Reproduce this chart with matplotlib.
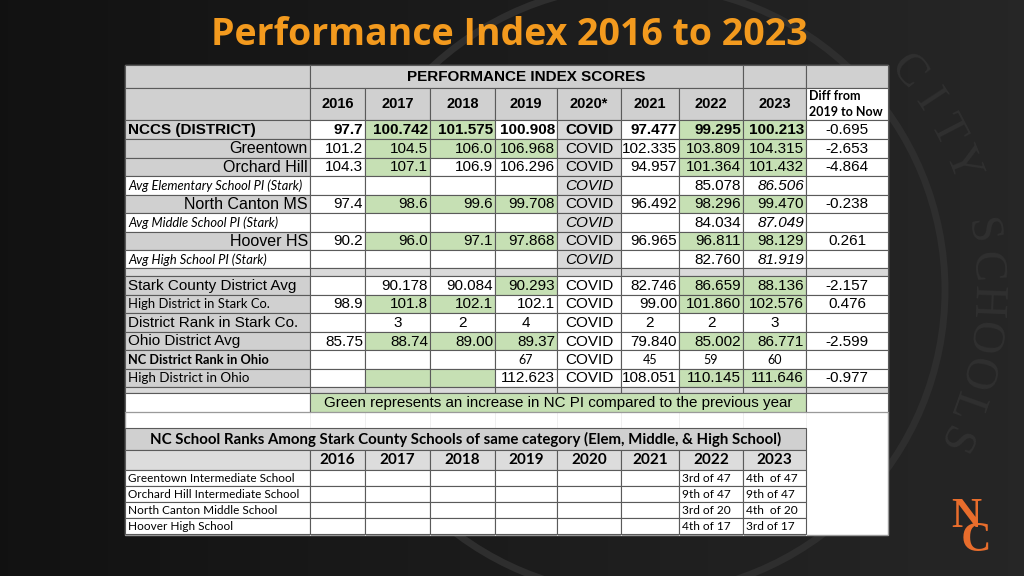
import numpy as np
import matplotlib
matplotlib.use('Agg')
import matplotlib.pyplot as plt
from matplotlib.patches import Rectangle, Circle

# ---- data ----
title = 'Performance Index 2016 to 2023'
table_title = 'PERFORMANCE INDEX SCORES'
header_years = ['2016', '2017', '2018', '2019', '2020*', '2021', '2022', '2023']
diff_header = 'Diff from\n2019 to Now'

row_labels = ['NCCS (DISTRICT)', 'Greentown', 'Orchard Hill',
              'Avg Elementary School PI (Stark)', 'North Canton MS',
              'Avg Middle School PI (Stark)', 'Hoover HS',
              'Avg High School PI (Stark)']
nccs_vals = ['97.7', '100.742', '101.575', '100.908', 'COVID', '97.477', '99.295', '100.213', '-0.695']
greentown_vals = ['101.2', '104.5', '106.0', '106.968', 'COVID', '102.335', '103.809', '104.315', '-2.653']
orchard_vals = ['104.3', '107.1', '106.9', '106.296', 'COVID', '94.957', '101.364', '101.432', '-4.864']
avg_elem_vals = ['', '', '', '', 'COVID', '', '85.078', '86.506', '']
ncms_vals = ['97.4', '98.6', '99.6', '99.708', 'COVID', '96.492', '98.296', '99.470', '-0.238']
avg_mid_vals = ['', '', '', '', 'COVID', '', '84.034', '87.049', '']
hoover_vals = ['90.2', '96.0', '97.1', '97.868', 'COVID', '96.965', '96.811', '98.129', '0.261']
avg_high_vals = ['', '', '', '', 'COVID', '', '82.760', '81.919', '']

county_labels = ['Stark County District Avg', 'High District in Stark Co.',
                 'District Rank in Stark Co.', 'Ohio District Avg',
                 'NC District Rank in Ohio', 'High District in Ohio']
stark_avg_vals = ['', '90.178', '90.084', '90.293', 'COVID', '82.746', '86.659', '88.136', '-2.157']
high_stark_vals = ['98.9', '101.8', '102.1', '102.1', 'COVID', '99.00', '101.860', '102.576', '0.476']
rank_stark_vals = ['', '3', '2', '4', 'COVID', '2', '2', '3', '']
ohio_avg_vals = ['85.75', '88.74', '89.00', '89.37', 'COVID', '79.840', '85.002', '86.771', '-2.599']
rank_ohio_vals = ['', '', '', '67', 'COVID', '45', '59', '60', '']
high_ohio_vals = ['', '', '', '112.623', 'COVID', '108.051', '110.145', '111.646', '-0.977']

# which year columns are shaded green (increase on previous year)
green_top = [[1, 2, 6, 7], [1, 2, 3, 6, 7], [1, 6, 7], [], [1, 2, 3, 6, 7], [], [1, 2, 3, 6, 7], []]
green_county = [[3, 6, 7], [1, 2, 6, 7], [], [1, 2, 3, 6, 7], [], [1, 2, 6, 7]]
legend_note = 'Green represents an increase in NC PI compared to the previous year'

ranks_title = 'NC School Ranks Among Stark County Schools of same category (Elem, Middle, & High School)'
rank_years = ['2016', '2017', '2018', '2019', '2020', '2021', '2022', '2023']
school_labels = ['Greentown Intermediate School', 'Orchard Hill Intermediate School',
                 'North Canton Middle School', 'Hoover High School']
ranks_2022 = ['3rd of 47', '9th of 47', '3rd of 20', '4th of 17']
ranks_2023 = ['4th  of 47', '9th of 47', '4th  of 20', '3rd of 17']

top_vals = [nccs_vals, greentown_vals, orchard_vals, avg_elem_vals,
            ncms_vals, avg_mid_vals, hoover_vals, avg_high_vals]
county_vals = [stark_avg_vals, high_stark_vals, rank_stark_vals,
               ohio_avg_vals, rank_ohio_vals, high_ohio_vals]

# ---- layout (pixels) ----
col_x = [125, 310, 365, 430, 495, 557, 621, 679, 743, 806, 888]
top_rows_y = [120, 139, 157.5, 176, 194.5, 213, 231.5, 250, 268]
county_rows_y = [276, 295, 313, 332, 350, 369, 387]
rank_rows_y = [470, 486, 502, 518, 534]

GRAY = '#d0d0d0'
COVID_GRAY = '#dadada'
GREEN = '#c6e0b4'
LINE = '#5a5a5a'
ARIAL = 'Liberation Sans'
CALIBRI = 'Lato'
ORANGE = '#f39a1e'
NUM = 11

fig = plt.figure(figsize=(10.24, 5.76), dpi=100)
ax = fig.add_axes([0, 0, 1, 1])
ax.set_xlim(0, 1024)
ax.set_ylim(576, 0)
ax.axis('off')

# dark background with a soft gradient
grad = np.linspace(0.07, 0.15, 256)[None, :]
ax.imshow(np.dstack([grad, grad, grad]), extent=[0, 1024, 576, 0], aspect='auto', zorder=0)

# faint school seal watermark (only the letters that fall on the visible right side)
cx, cy = 640, 290
ax.add_patch(Circle((cx, cy), 305, fill=False, ec='#2e2e2e', lw=5, zorder=1))
seal = 'NORTH CANTON CITY SCHOOLS'
start = 52 - 6 * seal.index('CITY')
for i, ch in enumerate(seal):
    a = np.radians(start + 5.9 * i)
    px, py = cx + 345 * np.sin(a), cy - 345 * np.cos(a)
    if ch == ' ' or py < 30 or py > 550 or px < 880:
        continue
    ax.text(px, py, ch, fontsize=33, family='Liberation Serif', color='#303030',
            ha='center', va='center', rotation=-np.degrees(a), zorder=1)

# title
ax.text(509, 35, title, fontsize=27, weight='bold', family='Open Sans',
        color=ORANGE, ha='center', va='center', zorder=5)

# spreadsheet area
ax.add_patch(Rectangle((125, 65), 763, 470, fc='white', ec='#9a9a9a', lw=1, zorder=2))
for gx in col_x[1:-1]:
    ax.plot([gx, gx], [412, 535], color='#ececec', lw=0.6, zorder=2)


def cell(x0, x1, y0, y1, fc='white', lw=0.8):
    ax.add_patch(Rectangle((x0, y0), x1 - x0, y1 - y0, fc=fc, ec=LINE, lw=lw, zorder=3))


def put(x0, x1, y0, y1, s, align='right', size=NUM, family=ARIAL, **kw):
    yc = (y0 + y1) / 2 + 0.5
    if align == 'right':
        ax.text(x1 - 2, yc, s, ha='right', va='center', fontsize=size, family=family, zorder=4, **kw)
    elif align == 'left':
        ax.text(x0 + 3, yc, s, ha='left', va='center', fontsize=size, family=family, zorder=4, **kw)
    else:
        ax.text((x0 + x1) / 2, yc, s, ha='center', va='center', fontsize=size, family=family, zorder=4, **kw)


# title row and header row
cell(125, 310, 65, 88, GRAY)
cell(310, 743, 65, 88, GRAY)
cell(743, 806, 65, 88, GRAY)
cell(806, 888, 65, 88, GRAY)
put(310, 743, 65, 88, table_title, 'center', 11, weight='bold')
cell(125, 310, 88, 120, GRAY)
for j, yr in enumerate(header_years):
    cell(col_x[j + 1], col_x[j + 2], 88, 120, GRAY)
    put(col_x[j + 1], col_x[j + 2], 88, 120, yr, 'center', 10.5, weight='bold')
cell(806, 888, 88, 120, 'white')
ax.text(809, 104, diff_header, ha='left', va='center', fontsize=9, weight='bold',
        family=CALIBRI, linespacing=1.3, zorder=4)

# school rows
for i, (lab, vals) in enumerate(zip(row_labels, top_vals)):
    y0, y1 = top_rows_y[i], top_rows_y[i + 1]
    is_avg = lab.startswith('Avg')
    bold = i == 0
    cell(125, 310, y0, y1, 'white' if is_avg else GRAY)
    if is_avg:
        put(125, 310, y0, y1, lab, 'left', 9.3, CALIBRI, style='italic')
    elif bold:
        put(125, 310, y0, y1, lab, 'left', 11, weight='bold')
    else:
        put(125, 310, y0, y1, lab, 'right', 11.5)
    for j, v in enumerate(vals):
        x0, x1 = col_x[j + 1], col_x[j + 2]
        if j == 4:
            fc = COVID_GRAY
        elif j < 8 and j in green_top[i]:
            fc = GREEN
        else:
            fc = 'white'
        cell(x0, x1, y0, y1, fc)
        if not v:
            continue
        kw = {'weight': 'bold'} if (bold and j < 8) else {}
        if is_avg and j in (4, 7):
            kw['style'] = 'italic'
        if j in (4, 8):
            put(x0, x1, y0, y1, v, 'center', NUM, **kw)
        else:
            put(x0, x1, y0, y1, v, 'right', NUM, **kw)

# separator rows
cell(125, 888, 268, 276, COVID_GRAY)
for gx in col_x[1:-1]:
    ax.plot([gx, gx], [268, 276], color=LINE, lw=0.8, zorder=3)

# county / state rows
label_fonts = [(ARIAL, 11, 'normal'), (CALIBRI, 9.4, 'normal'), (ARIAL, 11, 'normal'),
               (ARIAL, 11, 'normal'), (CALIBRI, 9.2, 'bold'), (CALIBRI, 9.6, 'normal')]
for i, (lab, vals) in enumerate(zip(county_labels, county_vals)):
    y0, y1 = county_rows_y[i], county_rows_y[i + 1]
    fam, sz, wt = label_fonts[i]
    cell(125, 310, y0, y1, GRAY)
    put(125, 310, y0, y1, lab, 'left', sz, fam, weight=wt)
    for j, v in enumerate(vals):
        x0, x1 = col_x[j + 1], col_x[j + 2]
        fc = GREEN if (j < 8 and j in green_county[i]) else 'white'
        cell(x0, x1, y0, y1, fc)
        if not v:
            continue
        if i == 4 and j != 4:
            put(x0, x1, y0, y1, v, 'center', 9, CALIBRI)
        elif i == 2 or j in (4, 8):
            put(x0, x1, y0, y1, v, 'center', NUM)
        else:
            put(x0, x1, y0, y1, v, 'right', NUM)

cell(125, 888, 387, 393, COVID_GRAY)
for gx in col_x[1:-1]:
    ax.plot([gx, gx], [387, 393], color=LINE, lw=0.8, zorder=3)
cell(125, 310, 393, 412, 'white')
cell(310, 806, 393, 412, GREEN)
cell(806, 888, 393, 412, 'white')
put(310, 806, 393, 412, legend_note, 'center', 10.9)
ax.plot([125, 888], [412, 412], color='#9a9a9a', lw=0.8, zorder=3)

# school rank table
cell(125, 806, 428, 450, GRAY)
put(125, 806, 428, 450, ranks_title, 'center', 10.8, CALIBRI, weight='bold')
cell(125, 310, 450, 470, '#dcdcdc')
for j, yr in enumerate(rank_years):
    cell(col_x[j + 1], col_x[j + 2], 450, 470, '#dcdcdc')
    put(col_x[j + 1], col_x[j + 2], 450, 470, yr, 'center', 11, CALIBRI, weight='bold')
for i, lab in enumerate(school_labels):
    y0, y1 = rank_rows_y[i], rank_rows_y[i + 1]
    cell(125, 310, y0, y1, 'white')
    put(125, 310, y0, y1, lab, 'left', 8.5, CALIBRI)
    for j in range(8):
        cell(col_x[j + 1], col_x[j + 2], y0, y1, 'white')
    put(col_x[7], col_x[8], y0, y1, ranks_2022[i], 'left', 8.6, CALIBRI)
    put(col_x[8], col_x[9], y0, y1, ranks_2023[i], 'left', 8.6, CALIBRI)

# NC logo, bottom right (one text, C set below and to the right of N)
ax.text(951, 529, 'N\n C', fontsize=30, family='Liberation Serif', color='#e86d2c',
        weight='bold', ha='left', va='center', linespacing=0.55, zorder=5)

fig.savefig('out.png', dpi=100)
